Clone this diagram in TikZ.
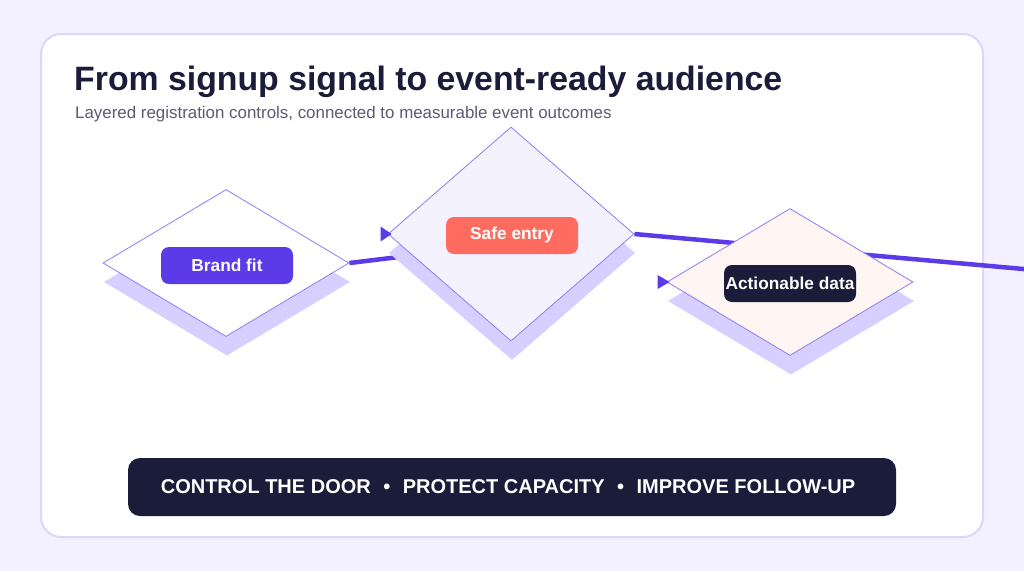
\documentclass[tikz,border=0pt]{standalone}
\usepackage{fontspec}
\setmainfont{Liberation Sans}
\usetikzlibrary{shapes.geometric,calc}
\definecolor{bgc}{HTML}{F3F1FF}
\definecolor{cardline}{HTML}{DCD6FF}
\definecolor{navy}{HTML}{1B1B3A}
\definecolor{subgray}{HTML}{5B5B72}
\definecolor{purp}{HTML}{5B3BE8}
\definecolor{dline}{HTML}{8E7DF5}
\definecolor{shadowc}{HTML}{D6CFFF}
\definecolor{coral}{HTML}{FF6B5E}
\definecolor{lilac}{HTML}{F5F2FF}
\definecolor{peach}{HTML}{FFF5F2}
\tikzset{
  dia/.style={shape=diamond, inner sep=0pt, minimum width=246pt, draw=dline, line width=0.8pt},
  diashadow/.style={shape=diamond, inner sep=0pt, minimum width=246pt, fill=shadowc},
  pill/.style={rounded corners=8pt, minimum width=132pt, minimum height=37pt, inner sep=0pt, text=white, font=\bfseries\fontsize{17.3}{20}\selectfont},
  conn/.style={draw=purp, line width=4.5pt},
  tip/.style={fill=purp}
}
\begin{document}
\begin{tikzpicture}[x=1pt,y=-1pt]
\useasboundingbox (0,0) rectangle (1024,571);
\fill[bgc] (0,0) rectangle (1024,571);
\draw[cardline, fill=white, line width=2pt, rounded corners=20pt] (41,34) rectangle (983,537);
\node[anchor=base west, text=navy, font=\bfseries\fontsize{33.8}{40}\selectfont, inner sep=0pt] (title) at (74,90) {From signup signal to event-ready audience};
\node[anchor=base west, text=subgray, font=\fontsize{16.9}{20}\selectfont, inner sep=0pt] (sub) at (75,118.5) {Layered registration controls, connected to measurable event outcomes};

% diamond 1
\node[diashadow, minimum height=147pt] (s1) at (227,282) {};
\node[dia, fill=white, minimum height=147pt] (d1) at (226,263) {};
\coordinate (e1) at (440,252);
\draw[conn] (d1.east) -- (e1);
% diamond 2
\node[diashadow, minimum height=214pt] (s2) at (512,253) {};
\node[dia, fill=lilac, minimum height=214pt] (d2) at (511,234) {};
\coordinate (e2) at (1040,270.5);
\draw[conn] (d2.east) -- (e2);
% diamond 3
\node[diashadow, minimum height=147pt] (s3) at (791,301) {};
\node[dia, fill=peach, minimum height=147pt] (d3) at (790,282) {};

% arrow tips
\fill[tip] ($(d2.west)+(-7,-7.5)$) -- ($(d2.west)+(4,0)$) -- ($(d2.west)+(-7,7.5)$) -- cycle;
\fill[tip] ($(d3.west)+(-9,-7)$) -- ($(d3.west)+(3,0)$) -- ($(d3.west)+(-9,7)$) -- cycle;

% labels
\node[pill, fill=purp] (l1) at (227,265.5) {Brand fit};
\node[pill, fill=coral] (l2) at (512,235.5) {Safe entry};
\node[pill, fill=navy] (l3) at (790,283.5) {Actionable data};

% bottom bar
\node[fill=navy, rounded corners=12pt, minimum width=768pt, minimum height=58pt, inner sep=0pt] (bar) at (512,487) {};
\node[text=white, font=\bfseries\fontsize{20}{24}\selectfont, inner sep=0pt] (bartext) at (508,487) {CONTROL THE DOOR\hspace{12.5pt}•\hspace{12.5pt}PROTECT CAPACITY\hspace{12.5pt}•\hspace{12.5pt}IMPROVE FOLLOW-UP};
\end{tikzpicture}
\end{document}
